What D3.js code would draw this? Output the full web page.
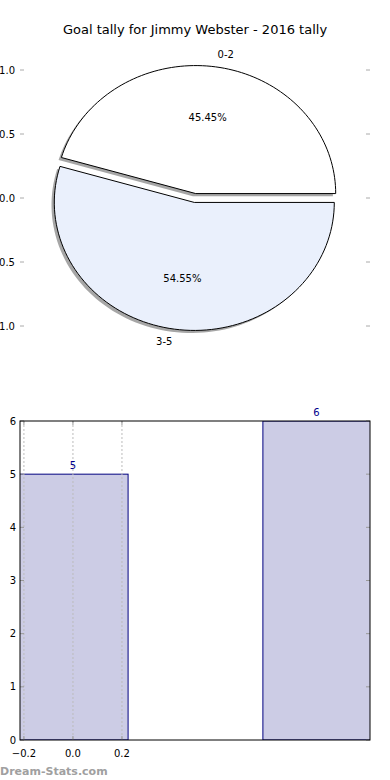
<!DOCTYPE html>
<html>
<head>
<meta charset="utf-8">
<title>Goal tally</title>
<style>
  body { margin: 0; background: #fff; }
  svg { display: block; font-family: "DejaVu Sans", sans-serif; }
  .tick-lbl { font-size: 10px; fill: #000; }
</style>
</head>
<body>
<svg width="390" height="780"></svg>
<script src="https://cdn.jsdelivr.net/npm/d3@7"></script>
<script>
// data
var categories = ["0-2", "3-5"];
var tally = [5, 6];
var pieColors = ["#ffffff", "#eaf0fc"];
var pieTicks = [1.0, 0.5, 0.0, -0.5, -1.0];
var barTicksX = [-0.2, 0.0, 0.2];
var barTicksY = [0, 1, 2, 3, 4, 5, 6];

var svg = d3.select("svg");
var fmt1 = function(d) { return d3.format(".1f")(d).replace("-", "\u2212"); };

// title
svg.append("text")
  .attr("x", 195).attr("y", 34)
  .attr("text-anchor", "middle")
  .style("font-size", "13px")
  .text("Goal tally for Jimmy Webster - 2016 tally");

// ---------- pie ----------
var px = d3.scaleLinear().domain([-1.25, 1.25]).range([20, 370]);
var py = d3.scaleLinear().domain([-1, 1]).range([326, 70]);
var explode = 0.035;

var pie = d3.pie().sort(null).startAngle(0).endAngle(2 * Math.PI);
var arcs = pie(tally);
var total = d3.sum(tally);

// pie axis ticks (no spines)
var gp = svg.append("g");
pieTicks.forEach(function(t) {
  gp.append("line").attr("x1", 20).attr("x2", 24).attr("y1", py(t)).attr("y2", py(t))
    .attr("stroke", "#aaa");
  gp.append("line").attr("x1", 366).attr("x2", 370).attr("y1", py(t)).attr("y2", py(t))
    .attr("stroke", "#aaa");
  gp.append("text").attr("class", "tick-lbl")
    .attr("x", 15).attr("y", py(t)).attr("dy", "0.35em")
    .attr("text-anchor", "end").text(fmt1(t));
});

// wedge outline in data units, mapped through the scales
function wedgePoints(a, ox, oy) {
  var mid = (a.startAngle + a.endAngle) / 2;
  var cx = explode * Math.cos(mid) + ox, cy = explode * Math.sin(mid) + oy;
  var n = 90, pts = [[cx, cy]];
  for (var i = 0; i <= n; i++) {
    var t = a.startAngle + (a.endAngle - a.startAngle) * i / n;
    pts.push([cx + Math.cos(t), cy + Math.sin(t)]);
  }
  return pts;
}
var wedge = d3.line().x(function(d) { return px(d[0]); }).y(function(d) { return py(d[1]); });

// shadows first
arcs.forEach(function(a) {
  svg.append("path")
    .attr("d", wedge(wedgePoints(a, -0.02, -0.02)) + "Z")
    .attr("fill", "#4d4d4d").attr("fill-opacity", 0.5);
});
arcs.forEach(function(a, i) {
  svg.append("path")
    .attr("d", wedge(wedgePoints(a, 0, 0)) + "Z")
    .attr("fill", pieColors[i])
    .attr("stroke", "#000").attr("stroke-width", 1);
});
arcs.forEach(function(a, i) {
  var mid = (a.startAngle + a.endAngle) / 2;
  var c = Math.cos(mid), s = Math.sin(mid);
  var ex = explode * c, ey = explode * s;
  svg.append("text").attr("class", "tick-lbl")
    .attr("x", px(ex + 1.1 * c)).attr("y", py(ey + 1.1 * s)).attr("dy", "0.35em")
    .attr("text-anchor", c > 0 ? "start" : "end")
    .text(categories[i]);
  svg.append("text").attr("class", "tick-lbl")
    .attr("x", px(ex + 0.6 * c)).attr("y", py(ey + 0.6 * s)).attr("dy", "0.35em")
    .attr("text-anchor", "middle")
    .text((a.value / total * 100).toFixed(2) + "%");
});

// ---------- bars ----------
var bx = d3.scaleLinear().domain([-0.216, 1.212]).range([20, 370]);
var by = d3.scaleLinear().domain([0, 6]).range([740, 421]);
var barW = 0.45;

svg.append("clipPath").attr("id", "barclip")
  .append("rect").attr("x", 20).attr("y", 421).attr("width", 350).attr("height", 319);

var gb = svg.append("g");
gb.append("g").attr("clip-path", "url(#barclip)")
  .selectAll("rect").data(tally).enter().append("rect")
  .attr("x", function(d, i) { return bx(i - barW / 2); })
  .attr("width", bx(barW) - bx(0))
  .attr("y", function(d) { return by(d); })
  .attr("height", function(d) { return by(0) - by(d); })
  .attr("fill", "#ccccE5")
  .attr("stroke", "#000080").attr("stroke-width", 1);

// grid (vertical dotted lines at x ticks)
barTicksX.forEach(function(t) {
  gb.append("line").attr("x1", bx(t)).attr("x2", bx(t)).attr("y1", 421).attr("y2", 740)
    .attr("stroke", "#bbb").attr("stroke-dasharray", "2,2");
  gb.append("line").attr("x1", bx(t)).attr("x2", bx(t)).attr("y1", 740).attr("y2", 736)
    .attr("stroke", "#999");
  gb.append("line").attr("x1", bx(t)).attr("x2", bx(t)).attr("y1", 421).attr("y2", 425)
    .attr("stroke", "#999");
  gb.append("text").attr("class", "tick-lbl")
    .attr("x", bx(t)).attr("y", 753).attr("dy", "0.35em")
    .attr("text-anchor", "middle").text(fmt1(t));
});
barTicksY.forEach(function(t) {
  gb.append("line").attr("x1", 20).attr("x2", 24).attr("y1", by(t)).attr("y2", by(t))
    .attr("stroke", "#999");
  gb.append("line").attr("x1", 366).attr("x2", 370).attr("y1", by(t)).attr("y2", by(t))
    .attr("stroke", "#999");
  gb.append("text").attr("class", "tick-lbl")
    .attr("x", 16).attr("y", by(t)).attr("dy", "0.35em")
    .attr("text-anchor", "end").text(t);
});

// frame
gb.append("rect").attr("x", 20).attr("y", 421).attr("width", 350).attr("height", 319)
  .attr("fill", "none").attr("stroke", "#000").attr("stroke-width", 1);

// value labels, centred on the visible part of each bar
gb.selectAll(".val").data(tally).enter().append("text")
  .attr("class", "val")
  .attr("x", function(d, i) {
    var l = Math.max(bx(i - barW / 2), 20), r = Math.min(bx(i + barW / 2), 370);
    return i === 0 ? bx(i) : (l + r) / 2;
  })
  .attr("y", function(d) { return by(d) - 5; })
  .attr("text-anchor", "middle")
  .style("font-size", "10px").attr("fill", "#00008b")
  .text(function(d) { return d; });

// watermark
svg.append("text")
  .attr("x", 0).attr("y", 775)
  .style("font-size", "11px").style("font-weight", "bold")
  .attr("fill", "#a0a0a0")
  .text("Dream-Stats.com");
</script>
</body>
</html>
